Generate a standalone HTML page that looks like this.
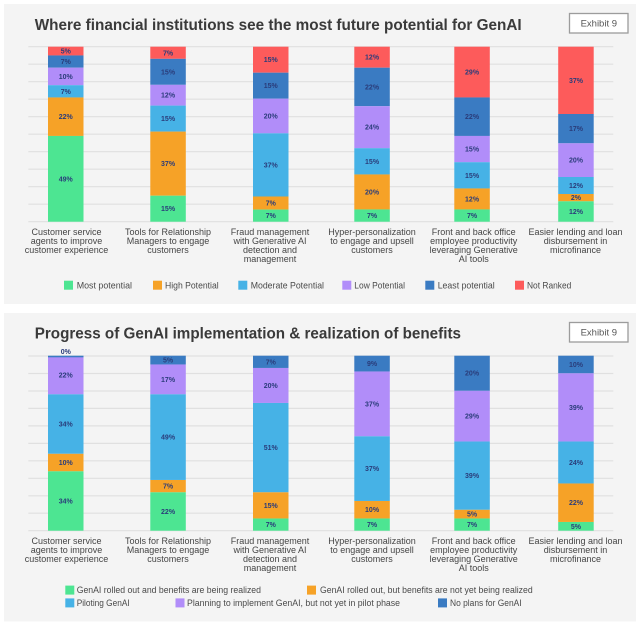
<!DOCTYPE html>
<html>
<head>
<meta charset="utf-8">
<style>
  html,body{margin:0;padding:0;background:#ffffff;}
  svg{display:block;}
  .t{font-family:"Liberation Sans",Arial,sans-serif;}
  .title{font-family:"Liberation Sans",Arial,sans-serif;font-weight:bold;font-size:16px;fill:#3a3a3a;}
  .ex{font-family:"Liberation Sans",Arial,sans-serif;font-size:9.5px;fill:#555;}
  .cat{font-family:"Liberation Sans",Arial,sans-serif;font-size:9px;fill:#454545;text-anchor:middle;}
  .lg{font-family:"Liberation Sans",Arial,sans-serif;font-size:9px;fill:#4a4a4a;}
  .bl{font-family:"Liberation Sans",Arial,sans-serif;font-size:7px;font-weight:bold;fill:#2a3c7a;text-anchor:middle;}
</style>
</head>
<body>
<svg width="640" height="626" viewBox="0 0 640 626" xmlns="http://www.w3.org/2000/svg">
  <!-- panels -->
  <rect x="4" y="4" width="632" height="300" fill="#f4f4f4"/>
  <rect x="4" y="313" width="632" height="308.5" fill="#f4f4f4"/>

  <!-- ============ TOP CHART ============ -->
  <text class="title" x="34.7" y="30" textLength="487" lengthAdjust="spacingAndGlyphs">Where financial institutions see the most future potential for GenAI</text>
  <rect x="569.5" y="13.5" width="58.5" height="19.5" fill="#ffffff" stroke="#9c9c9c" stroke-width="1.3"/>
  <text class="ex" x="598.8" y="26.6" text-anchor="middle">Exhibit 9</text>

  <!-- gridlines -->
  <g stroke="#e0e0e0" stroke-width="1.2">
    <line x1="28.3" x2="613.3" y1="46.7" y2="46.7"/>
    <line x1="28.3" x2="613.3" y1="64.2" y2="64.2"/>
    <line x1="28.3" x2="613.3" y1="81.7" y2="81.7"/>
    <line x1="28.3" x2="613.3" y1="99.2" y2="99.2"/>
    <line x1="28.3" x2="613.3" y1="116.7" y2="116.7"/>
    <line x1="28.3" x2="613.3" y1="134.2" y2="134.2"/>
    <line x1="28.3" x2="613.3" y1="151.7" y2="151.7"/>
    <line x1="28.3" x2="613.3" y1="169.2" y2="169.2"/>
    <line x1="28.3" x2="613.3" y1="186.7" y2="186.7"/>
    <line x1="28.3" x2="613.3" y1="204.2" y2="204.2"/>
    <line x1="28.3" x2="613.3" y1="221.7" y2="221.7"/>
  </g>

  <!-- B1 -->
  <rect x="48" y="46.7" width="35.5" height="8.75" fill="#fd5b5b"/>
  <rect x="48" y="55.45" width="35.5" height="12.25" fill="#3a7bc2"/>
  <rect x="48" y="67.7" width="35.5" height="17.5" fill="#b18df9"/>
  <rect x="48" y="85.2" width="35.5" height="12.25" fill="#46b2e6"/>
  <rect x="48" y="97.45" width="35.5" height="38.5" fill="#f6a227"/>
  <rect x="48" y="135.95" width="35.5" height="85.75" fill="#4de592"/>
  <text class="bl" x="65.75" y="53.6">5%</text>
  <text class="bl" x="65.75" y="64.1">7%</text>
  <text class="bl" x="65.75" y="78.95">10%</text>
  <text class="bl" x="65.75" y="93.8">7%</text>
  <text class="bl" x="65.75" y="119.2">22%</text>
  <text class="bl" x="65.75" y="181.3">49%</text>

  <!-- B2 -->
  <rect x="150.3" y="46.7" width="35.5" height="12.13" fill="#fd5b5b"/>
  <rect x="150.3" y="58.83" width="35.5" height="25.99" fill="#3a7bc2"/>
  <rect x="150.3" y="84.82" width="35.5" height="20.79" fill="#b18df9"/>
  <rect x="150.3" y="105.61" width="35.5" height="25.99" fill="#46b2e6"/>
  <rect x="150.3" y="131.6" width="35.5" height="64.11" fill="#f6a227"/>
  <rect x="150.3" y="195.71" width="35.5" height="25.99" fill="#4de592"/>
  <text class="bl" x="168.05" y="55.3">7%</text>
  <text class="bl" x="168.05" y="74.3">15%</text>
  <text class="bl" x="168.05" y="97.7">12%</text>
  <text class="bl" x="168.05" y="121.1">15%</text>
  <text class="bl" x="168.05" y="166.2">37%</text>
  <text class="bl" x="168.05" y="211.2">15%</text>

  <!-- B3 -->
  <rect x="253" y="46.7" width="35.5" height="25.99" fill="#fd5b5b"/>
  <rect x="253" y="72.69" width="35.5" height="25.99" fill="#3a7bc2"/>
  <rect x="253" y="98.68" width="35.5" height="34.65" fill="#b18df9"/>
  <rect x="253" y="133.33" width="35.5" height="63.17" fill="#46b2e6"/>
  <rect x="253" y="196.5" width="35.5" height="13.07" fill="#f6a227"/>
  <rect x="253" y="209.57" width="35.5" height="12.13" fill="#4de592"/>
  <text class="bl" x="270.75" y="62.2">15%</text>
  <text class="bl" x="270.75" y="88.2">15%</text>
  <text class="bl" x="270.75" y="118.5">20%</text>
  <text class="bl" x="270.75" y="167.4">37%</text>
  <text class="bl" x="270.75" y="205.5">7%</text>
  <text class="bl" x="270.75" y="218.1">7%</text>

  <!-- B4 -->
  <rect x="354.3" y="46.7" width="35.5" height="21" fill="#fd5b5b"/>
  <rect x="354.3" y="67.7" width="35.5" height="38.5" fill="#3a7bc2"/>
  <rect x="354.3" y="106.2" width="35.5" height="42" fill="#b18df9"/>
  <rect x="354.3" y="148.2" width="35.5" height="26.25" fill="#46b2e6"/>
  <rect x="354.3" y="174.45" width="35.5" height="35" fill="#f6a227"/>
  <rect x="354.3" y="209.45" width="35.5" height="12.25" fill="#4de592"/>
  <text class="bl" x="372.05" y="59.7">12%</text>
  <text class="bl" x="372.05" y="89.45">22%</text>
  <text class="bl" x="372.05" y="129.7">24%</text>
  <text class="bl" x="372.05" y="163.8">15%</text>
  <text class="bl" x="372.05" y="194.45">20%</text>
  <text class="bl" x="372.05" y="218.1">7%</text>

  <!-- B5 -->
  <rect x="454.3" y="46.7" width="35.5" height="50.75" fill="#fd5b5b"/>
  <rect x="454.3" y="97.45" width="35.5" height="38.5" fill="#3a7bc2"/>
  <rect x="454.3" y="135.95" width="35.5" height="26.25" fill="#b18df9"/>
  <rect x="454.3" y="162.2" width="35.5" height="26.25" fill="#46b2e6"/>
  <rect x="454.3" y="188.45" width="35.5" height="21" fill="#f6a227"/>
  <rect x="454.3" y="209.45" width="35.5" height="12.25" fill="#4de592"/>
  <text class="bl" x="472.05" y="74.6">29%</text>
  <text class="bl" x="472.05" y="119.2">22%</text>
  <text class="bl" x="472.05" y="151.6">15%</text>
  <text class="bl" x="472.05" y="177.8">15%</text>
  <text class="bl" x="472.05" y="201.45">12%</text>
  <text class="bl" x="472.05" y="218.1">7%</text>

  <!-- B6 -->
  <rect x="558.2" y="46.7" width="35.5" height="67.3" fill="#fd5b5b"/>
  <rect x="558.2" y="114" width="35.5" height="29.3" fill="#3a7bc2"/>
  <rect x="558.2" y="143.3" width="35.5" height="33.7" fill="#b18df9"/>
  <rect x="558.2" y="177" width="35.5" height="17" fill="#46b2e6"/>
  <rect x="558.2" y="194" width="35.5" height="7.3" fill="#f6a227"/>
  <rect x="558.2" y="201.3" width="35.5" height="20.4" fill="#4de592"/>
  <text class="bl" x="575.95" y="82.85">37%</text>
  <text class="bl" x="575.95" y="131.15">17%</text>
  <text class="bl" x="575.95" y="162.65">20%</text>
  <text class="bl" x="575.95" y="188">12%</text>
  <text class="bl" x="575.95" y="200.15">2%</text>
  <text class="bl" x="575.95" y="214">12%</text>

  <!-- top category labels -->
  <text class="cat" x="66.5" y="234.8">Customer service</text>
  <text class="cat" x="66.5" y="243.8">agents to improve</text>
  <text class="cat" x="66.5" y="252.8">customer experience</text>

  <text class="cat" x="168" y="234.8">Tools for Relationship</text>
  <text class="cat" x="168" y="243.8">Managers to engage</text>
  <text class="cat" x="168" y="252.8">customers</text>

  <text class="cat" x="270" y="234.8">Fraud management</text>
  <text class="cat" x="270" y="243.8">with Generative AI</text>
  <text class="cat" x="270" y="252.8">detection and</text>
  <text class="cat" x="270" y="261.8">management</text>

  <text class="cat" x="372" y="234.8">Hyper-personalization</text>
  <text class="cat" x="372" y="243.8">to engage and upsell</text>
  <text class="cat" x="372" y="252.8">customers</text>

  <text class="cat" x="473.7" y="234.8">Front and back office</text>
  <text class="cat" x="473.7" y="243.8">employee productivity</text>
  <text class="cat" x="473.7" y="252.8">leveraging Generative</text>
  <text class="cat" x="473.7" y="261.8">AI tools</text>

  <text class="cat" x="575.5" y="234.8">Easier lending and loan</text>
  <text class="cat" x="575.5" y="243.8">disbursement in</text>
  <text class="cat" x="575.5" y="252.8">microfinance</text>

  <!-- top legend -->
  <rect x="64" y="280.7" width="9" height="9" fill="#4de592"/>
  <text class="lg" x="76.7" y="288.3" textLength="55.3" lengthAdjust="spacingAndGlyphs">Most potential</text>
  <rect x="153" y="280.7" width="9" height="9" fill="#f6a227"/>
  <text class="lg" x="165" y="288.3" textLength="53.7" lengthAdjust="spacingAndGlyphs">High Potential</text>
  <rect x="238.3" y="280.7" width="9" height="9" fill="#46b2e6"/>
  <text class="lg" x="250.7" y="288.3" textLength="73.3" lengthAdjust="spacingAndGlyphs">Moderate Potential</text>
  <rect x="342.3" y="280.7" width="9" height="9" fill="#b18df9"/>
  <text class="lg" x="354.3" y="288.3" textLength="50.7" lengthAdjust="spacingAndGlyphs">Low Potential</text>
  <rect x="425.3" y="280.7" width="9" height="9" fill="#3a7bc2"/>
  <text class="lg" x="437.7" y="288.3" textLength="57" lengthAdjust="spacingAndGlyphs">Least potential</text>
  <rect x="515" y="280.7" width="9" height="9" fill="#fd5b5b"/>
  <text class="lg" x="527" y="288.3" textLength="44.3" lengthAdjust="spacingAndGlyphs">Not Ranked</text>

  <!-- ============ BOTTOM CHART ============ -->
  <text class="title" x="34.7" y="338.4" textLength="426.3" lengthAdjust="spacingAndGlyphs">Progress of GenAI implementation &amp; realization of benefits</text>
  <rect x="569.5" y="322.5" width="58.5" height="19.5" fill="#ffffff" stroke="#9c9c9c" stroke-width="1.3"/>
  <text class="ex" x="598.8" y="335.6" text-anchor="middle">Exhibit 9</text>

  <g stroke="#e0e0e0" stroke-width="1.2">
    <line x1="28.3" x2="613.3" y1="356" y2="356"/>
    <line x1="28.3" x2="613.3" y1="373.5" y2="373.5"/>
    <line x1="28.3" x2="613.3" y1="391" y2="391"/>
    <line x1="28.3" x2="613.3" y1="408.4" y2="408.4"/>
    <line x1="28.3" x2="613.3" y1="425.9" y2="425.9"/>
    <line x1="28.3" x2="613.3" y1="443.4" y2="443.4"/>
    <line x1="28.3" x2="613.3" y1="460.8" y2="460.8"/>
    <line x1="28.3" x2="613.3" y1="478.3" y2="478.3"/>
    <line x1="28.3" x2="613.3" y1="495.8" y2="495.8"/>
    <line x1="28.3" x2="613.3" y1="513.2" y2="513.2"/>
    <line x1="28.3" x2="613.3" y1="530.7" y2="530.7"/>
  </g>

  <!-- B1 -->
  <rect x="48" y="471.2" width="35.5" height="59.5" fill="#4de592"/>
  <rect x="48" y="453.7" width="35.5" height="17.5" fill="#f6a227"/>
  <rect x="48" y="394.2" width="35.5" height="59.5" fill="#46b2e6"/>
  <rect x="48" y="356.7" width="35.5" height="37.5" fill="#b18df9"/>
  <rect x="48" y="355.7" width="35.5" height="1.6" fill="#3a7bc2"/>
  <text class="bl" x="65.75" y="503.45">34%</text>
  <text class="bl" x="65.75" y="464.95">10%</text>
  <text class="bl" x="65.75" y="426.45">34%</text>
  <text class="bl" x="65.75" y="377.45">22%</text>
  <text class="bl" x="65.75" y="354.2">0%</text>

  <!-- B2 -->
  <rect x="150.3" y="492.2" width="35.5" height="38.5" fill="#4de592"/>
  <rect x="150.3" y="479.95" width="35.5" height="12.25" fill="#f6a227"/>
  <rect x="150.3" y="394.2" width="35.5" height="85.75" fill="#46b2e6"/>
  <rect x="150.3" y="364.45" width="35.5" height="29.75" fill="#b18df9"/>
  <rect x="150.3" y="355.7" width="35.5" height="8.75" fill="#3a7bc2"/>
  <text class="bl" x="168.05" y="513.95">22%</text>
  <text class="bl" x="168.05" y="488.6">7%</text>
  <text class="bl" x="168.05" y="439.6">49%</text>
  <text class="bl" x="168.05" y="381.8">17%</text>
  <text class="bl" x="168.05" y="362.6">5%</text>

  <!-- B3 -->
  <rect x="253" y="518.45" width="35.5" height="12.25" fill="#4de592"/>
  <rect x="253" y="492.2" width="35.5" height="26.25" fill="#f6a227"/>
  <rect x="253" y="402.95" width="35.5" height="89.25" fill="#46b2e6"/>
  <rect x="253" y="367.95" width="35.5" height="35" fill="#b18df9"/>
  <rect x="253" y="355.7" width="35.5" height="12.25" fill="#3a7bc2"/>
  <text class="bl" x="270.75" y="527.1">7%</text>
  <text class="bl" x="270.75" y="507.8">15%</text>
  <text class="bl" x="270.75" y="450.1">51%</text>
  <text class="bl" x="270.75" y="387.95">20%</text>
  <text class="bl" x="270.75" y="364.3">7%</text>

  <!-- B4 -->
  <rect x="354.3" y="518.45" width="35.5" height="12.25" fill="#4de592"/>
  <rect x="354.3" y="500.95" width="35.5" height="17.5" fill="#f6a227"/>
  <rect x="354.3" y="436.2" width="35.5" height="64.75" fill="#46b2e6"/>
  <rect x="354.3" y="371.45" width="35.5" height="64.75" fill="#b18df9"/>
  <rect x="354.3" y="355.7" width="35.5" height="15.75" fill="#3a7bc2"/>
  <text class="bl" x="372.05" y="527.1">7%</text>
  <text class="bl" x="372.05" y="512.2">10%</text>
  <text class="bl" x="372.05" y="471.1">37%</text>
  <text class="bl" x="372.05" y="406.3">37%</text>
  <text class="bl" x="372.05" y="366.1">9%</text>

  <!-- B5 -->
  <rect x="454.3" y="518.45" width="35.5" height="12.25" fill="#4de592"/>
  <rect x="454.3" y="509.7" width="35.5" height="8.75" fill="#f6a227"/>
  <rect x="454.3" y="441.45" width="35.5" height="68.25" fill="#46b2e6"/>
  <rect x="454.3" y="390.7" width="35.5" height="50.75" fill="#b18df9"/>
  <rect x="454.3" y="355.7" width="35.5" height="35" fill="#3a7bc2"/>
  <text class="bl" x="472.05" y="527.1">7%</text>
  <text class="bl" x="472.05" y="516.6">5%</text>
  <text class="bl" x="472.05" y="478.1">39%</text>
  <text class="bl" x="472.05" y="418.6">29%</text>
  <text class="bl" x="472.05" y="375.7">20%</text>

  <!-- B6 -->
  <rect x="558.2" y="521.95" width="35.5" height="8.75" fill="#4de592"/>
  <rect x="558.2" y="483.45" width="35.5" height="38.5" fill="#f6a227"/>
  <rect x="558.2" y="441.45" width="35.5" height="42" fill="#46b2e6"/>
  <rect x="558.2" y="373.2" width="35.5" height="68.25" fill="#b18df9"/>
  <rect x="558.2" y="355.7" width="35.5" height="17.5" fill="#3a7bc2"/>
  <text class="bl" x="575.95" y="528.8">5%</text>
  <text class="bl" x="575.95" y="505.2">22%</text>
  <text class="bl" x="575.95" y="464.95">24%</text>
  <text class="bl" x="575.95" y="409.8">39%</text>
  <text class="bl" x="575.95" y="366.95">10%</text>

  <!-- bottom category labels -->
  <text class="cat" x="66.5" y="543.8">Customer service</text>
  <text class="cat" x="66.5" y="552.8">agents to improve</text>
  <text class="cat" x="66.5" y="561.8">customer experience</text>

  <text class="cat" x="168" y="543.8">Tools for Relationship</text>
  <text class="cat" x="168" y="552.8">Managers to engage</text>
  <text class="cat" x="168" y="561.8">customers</text>

  <text class="cat" x="270" y="543.8">Fraud management</text>
  <text class="cat" x="270" y="552.8">with Generative AI</text>
  <text class="cat" x="270" y="561.8">detection and</text>
  <text class="cat" x="270" y="570.8">management</text>

  <text class="cat" x="372" y="543.8">Hyper-personalization</text>
  <text class="cat" x="372" y="552.8">to engage and upsell</text>
  <text class="cat" x="372" y="561.8">customers</text>

  <text class="cat" x="473.7" y="543.8">Front and back office</text>
  <text class="cat" x="473.7" y="552.8">employee productivity</text>
  <text class="cat" x="473.7" y="561.8">leveraging Generative</text>
  <text class="cat" x="473.7" y="570.8">AI tools</text>

  <text class="cat" x="575.5" y="543.8">Easier lending and loan</text>
  <text class="cat" x="575.5" y="552.8">disbursement in</text>
  <text class="cat" x="575.5" y="561.8">microfinance</text>

  <!-- bottom legend -->
  <rect x="65.3" y="585.6" width="9" height="9" fill="#4de592"/>
  <text class="lg" x="76.7" y="593.2" textLength="184.3" lengthAdjust="spacingAndGlyphs">GenAI rolled out and benefits are being realized</text>
  <rect x="307" y="585.6" width="9" height="9" fill="#f6a227"/>
  <text class="lg" x="320" y="593.2" textLength="212.7" lengthAdjust="spacingAndGlyphs">GenAI rolled out, but benefits are not yet being realized</text>

  <rect x="65.3" y="598.4" width="9" height="9" fill="#46b2e6"/>
  <text class="lg" x="76.7" y="606" textLength="53" lengthAdjust="spacingAndGlyphs">Piloting GenAI</text>
  <rect x="175.5" y="598.4" width="9" height="9" fill="#b18df9"/>
  <text class="lg" x="187" y="606" textLength="213" lengthAdjust="spacingAndGlyphs">Planning to implement GenAI, but not yet in pilot phase</text>
  <rect x="438" y="598.4" width="9" height="9" fill="#3a7bc2"/>
  <text class="lg" x="450" y="606" textLength="71.6" lengthAdjust="spacingAndGlyphs">No plans for GenAI</text>
</svg>
</body>
</html>
